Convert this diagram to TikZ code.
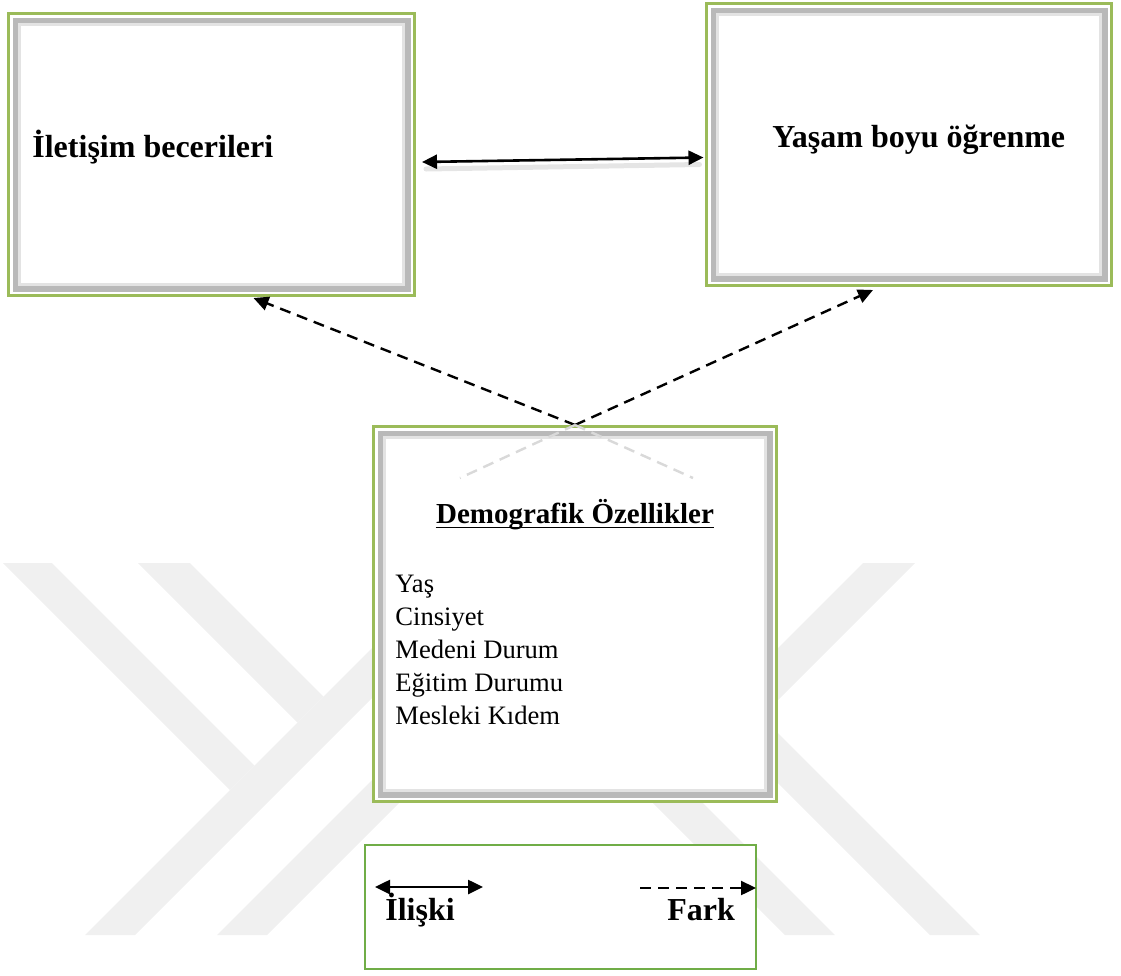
\documentclass[tikz,border=0pt]{standalone}
\usepackage{fontspec}
\setmainfont{Liberation Serif}
\usetikzlibrary{arrows.meta,calc,positioning}

\definecolor{boxgreen}{RGB}{155,187,89}
\definecolor{edgegreen}{RGB}{78,94,70}
\definecolor{legendgreen}{RGB}{112,173,71}
\definecolor{wmgray}{RGB}{240,240,240}

\tikzset{
  bevelbox/.style={draw=boxgreen, line width=1.5pt, fill=white, inner sep=0pt,
    path picture={
      \draw[gray!55, line width=3pt]
        ([shift={(3.5pt,-3.5pt)}]path picture bounding box.north west) rectangle
        ([shift={(-3.5pt,3.5pt)}]path picture bounding box.south east);
      \draw[gray!22, line width=1.5pt]
        ([shift={(5.6pt,-5.6pt)}]path picture bounding box.north west) rectangle
        ([shift={(-5.6pt,5.6pt)}]path picture bounding box.south east);
      \draw[edgegreen, line width=2pt]
        (path picture bounding box.north east) -- (path picture bounding box.south east);
    }},
  legendbox/.style={draw=legendgreen, line width=1pt, fill=white, inner sep=0pt},
  titletext/.style={font=\fontsize{16}{19}\selectfont\bfseries, inner sep=0pt},
  listtext/.style={font=\fontsize{13.3}{16.5}\selectfont, align=left, inner sep=0pt},
  relarrow/.style={{Triangle[length=7.5pt,width=7pt]}-{Triangle[length=7.5pt,width=7pt]}, line width=1.3pt},
  diffarrow/.style={-{Triangle[length=7.5pt,width=7pt]}, line width=1.2pt, dash pattern=on 5.5pt off 3.5pt},
  arrowshadow/.style={line width=2.5pt, gray!20, line cap=round},
  reflect/.style={line width=1.2pt, gray!30, dash pattern=on 5.5pt off 3.5pt},
  mark band/.style={fill=wmgray, draw=none}
}

\begin{document}
\begin{tikzpicture}[x=0.5pt,y=-0.5pt]
%
\useasboundingbox (0,0) rectangle (1121,976);
%
% watermark
\fill[mark band] (3,563) -- (52,563) -- (254.5,765.5) -- (230,790) -- cycle;
\fill[mark band] (138,563) -- (190,563) -- (323.5,696.5) -- (297.5,722.5) -- cycle;
\fill[mark band] (85,935) -- (135,935) -- (470,600) -- (420,600) -- cycle;
\fill[mark band] (217,935) -- (267,935) -- (500,702) -- (450,702) -- cycle;
\fill[mark band] (863,563) -- (915,563) -- (718,760) -- (666,760) -- cycle;
\fill[mark band] (930,935) -- (980,935) -- (745,700) -- (695,700) -- cycle;
\fill[mark band] (785,935) -- (835,935) -- (680,780) -- (630,780) -- cycle;
%
% boxes
\node[bevelbox, minimum width=203pt, minimum height=141pt] (ilet) at (211.5,154.5) {};
\node[bevelbox, minimum width=202.5pt, minimum height=141pt] (yasam) at (909,144.5) {};
\node[bevelbox, minimum width=201.5pt, minimum height=187.5pt] (demog) at (575,614) {};
\node[legendbox, minimum width=195.5pt, minimum height=62pt] (legend) at (560,906.5) {};
%
\node[titletext, anchor=base west] (ilettext) at (32,157) {İletişim becerileri};
\node[titletext, anchor=base west] (yasamtext) at (772,147) {Yaşam boyu öğrenme};
\node[titletext, font=\fontsize{14.5}{17}\selectfont\bfseries, anchor=base] (demogtitle) at (575,523) {Demografik Özellikler};
\draw[line width=0.9pt] ($(demogtitle.base west)+(0,4.5)$) -- ($(demogtitle.base east)+(0,4.5)$);
\node[listtext, anchor=north west] (demoglist) at (395,575) {Yaş\\Cinsiyet\\Medeni Durum\\Eğitim Durumu\\Mesleki Kıdem};
%
% connectors
\coordinate (relfrom) at ($(ilet.east)+(6,7.5)$);
\coordinate (relto) at ($(yasam.west)+(-1.5,13)$);
\draw[arrowshadow] ($(relfrom)+(4,7)$) -- ($(relto)+(-4,7)$);
\draw[relarrow] (relfrom) -- (relto);
\draw[diffarrow] (demog.north) -- ($(ilet.south)+(42,1)$);
\draw[diffarrow] (demog.north) -- ($(yasam.south)+(-36,3)$);
\coordinate (reflleft) at (460,478);
\coordinate (reflright) at (693,478);
\draw[reflect] (demog.north) -- (reflleft);
\draw[reflect] (demog.north) -- (reflright);
%
% legend
\coordinate (relkeyL) at (375,887);
\coordinate (relkeyR) at (483,887);
\coordinate (diffkeyL) at (640,888);
\coordinate (diffkeyR) at (756,888);
\draw[relarrow] (relkeyL) -- (relkeyR);
\draw[diffarrow] (diffkeyL) -- (diffkeyR);
\node[titletext, anchor=base west] (relkey) at (385,920) {İlişki};
\node[titletext, anchor=base west] (diffkey) at (667,920) {Fark};
%
\end{tikzpicture}
\end{document}
